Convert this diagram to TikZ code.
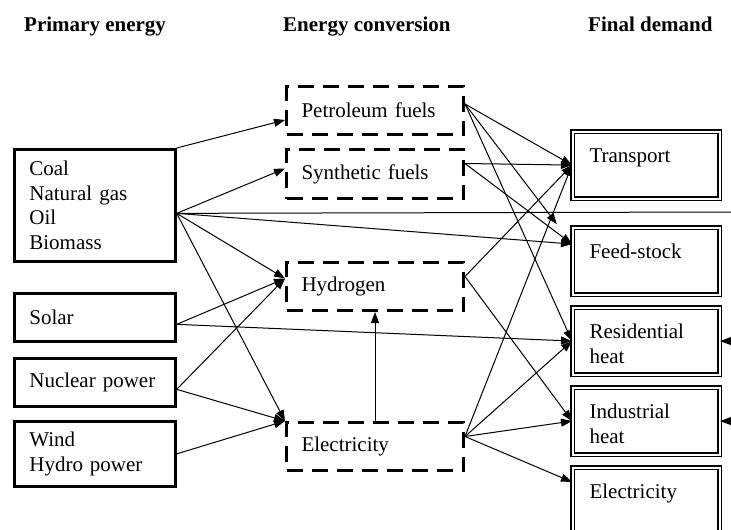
\documentclass[tikz,border=0pt]{standalone}
\usepackage{fontspec}
\setmainfont{Liberation Serif}
\usetikzlibrary{arrows.meta}
\newcommand\rtxt[1]{\parbox[c][67pt][t]{147pt}{\raggedright\leftskip=17pt\rule{0pt}{31pt}#1}}
\begin{document}
\begin{tikzpicture}[x=1pt, y=-1pt,
  font=\fontsize{21}{24.5}\selectfont,
  src/.style={draw, line width=2.7pt, anchor=north west, text width=131pt, inner xsep=15pt, inner ysep=0pt, align=left},
  conv/.style={draw, line width=3pt, dash pattern=on 16pt off 9pt, anchor=north west, minimum height=48pt, text width=147pt, inner xsep=15pt, inner ysep=0pt, align=left},
  dem/.style={draw, double, double distance=2pt, line width=1.1pt, anchor=north west, inner sep=0pt},
  hdr/.style={font=\fontsize{21}{24.5}\selectfont\bfseries, anchor=base west, inner sep=0pt},
  arr/.style={line width=1pt, -{Triangle[length=11pt,width=8pt]}},
  ln/.style={line width=1pt}]
\useasboundingbox (0,0) rectangle (731,530);

% headers
\node[hdr] (h1) at (24,31) {Primary energy};
\node[hdr] (h2) at (283,31) {Energy conversion};
\node[hdr] (h3) at (588,31) {Final demand};

% primary energy
\node[src, minimum height=112pt] (coal) at (13,148) {Coal\\Natural gas\\Oil\\Biomass};
\node[src, minimum height=48pt] (solar) at (13,292) {Solar};
\node[src, minimum height=48pt] (nuclear) at (13,357) {Nuclear power};
\node[src, minimum height=65pt] (wind) at (13,420) {Wind\\Hydro power};

% conversion
\node[conv] (petro) at (285,85) {Petroleum fuels};
\node[conv, minimum height=49pt] (synth) at (285,148) {Synthetic fuels};
\node[conv] (hydro) at (285,261) {Hydrogen};
\node[conv] (elec) at (285,421) {Electricity};

% final demand
\node[dem] (trans) at (572,131) {\rtxt{Transport}};
\node[dem] (feed) at (572,227) {\rtxt{Feed-stock}};
\node[dem] (resid) at (572,307) {\rtxt{Residential\\heat}};
\node[dem] (indus) at (572,387) {\rtxt{Industrial\\heat}};
\node[dem] (elecF) at (572,467) {\rtxt{Electricity}};

% connection points
\coordinate (coalOut) at ([yshift=-8pt]coal.east);
\coordinate (solarOut) at ([yshift=-7pt]solar.east);
\coordinate (nucOut) at ([yshift=-7pt]nuclear.east);
\coordinate (windOut) at (wind.east);
\coordinate (petIn) at ([yshift=-9.5pt]petro.west);
\coordinate (petOut) at ([yshift=6.5pt]petro.east);
\coordinate (synIn) at ([yshift=5.5pt]synth.west);
\coordinate (synOut) at ([yshift=10.5pt]synth.east);
\coordinate (hydIn) at ([yshift=8pt]hydro.west);
\coordinate (hydOut) at ([yshift=10pt]hydro.east);
\coordinate (eleIn) at (elec.north west);
\coordinate (eleOut) at ([yshift=10pt]elec.east);
\coordinate (feedIn) at ([yshift=17pt]feed.west);
\coordinate (elecFIn) at ([yshift=-15pt]elecF.north west);
\coordinate (edgeLine) at (731,212);
\coordinate (edgeRes) at ([xshift=12pt]resid.east);
\coordinate (edgeInd) at ([xshift=12pt]indus.east);

% connectors from primary energy
\draw[arr] (coal.north east) -- (petIn);
\draw[arr] (coalOut) -- (synIn);
\draw[ln] (coalOut) -- (edgeLine);
\draw[arr] (coalOut) -- (feedIn);
\draw[arr] (coalOut) -- (hydIn);
\draw[arr] (coalOut) -- (eleIn);
\draw[arr] (solarOut) -- (hydIn);
\draw[arr] (solarOut) -- (resid.west);
\draw[arr] (nucOut) -- (hydIn);
\draw[arr] (nucOut) -- (eleIn);
\draw[arr] (windOut) -- (eleIn);

% conversion internal
\draw[arr] (elec.north) -- (hydro.south);

% connectors to final demand
\draw[arr] (petOut) -- (trans.west);
\draw[arr, shorten >=25pt] (petOut) -- (feedIn);
\draw[arr] (petOut) -- (resid.west);
\draw[arr] (synOut) -- (trans.west);
\draw[arr] (synOut) -- (feedIn);
\draw[arr] (hydOut) -- (trans.west);
\draw[arr] (hydOut) -- (indus.west);
\draw[arr] (eleOut) -- (trans.west);
\draw[arr] (eleOut) -- (resid.west);
\draw[arr] (eleOut) -- (indus.west);
\draw[arr] (eleOut) -- (elecFIn);
\draw[arr] (edgeRes) -- (resid.east);
\draw[arr] (edgeInd) -- (indus.east);
\end{tikzpicture}
\end{document}
